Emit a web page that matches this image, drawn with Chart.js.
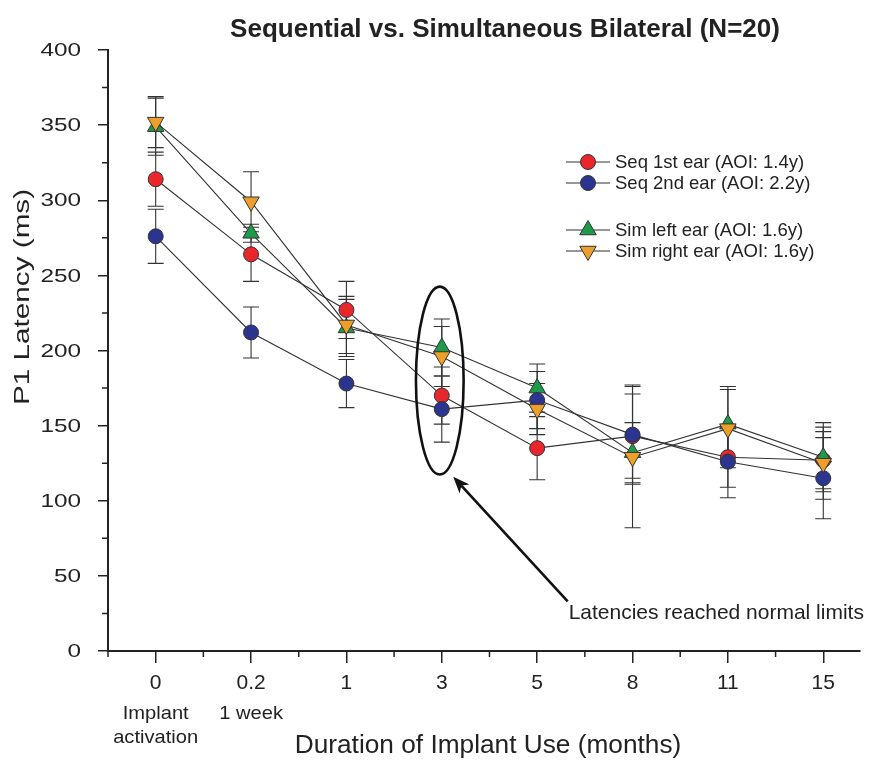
<!DOCTYPE html>
<html><head><meta charset="utf-8">
<script src="https://cdn.jsdelivr.net/npm/chart.js@4.4.1/dist/chart.umd.min.js"></script>
<style>html,body{margin:0;padding:0;background:#fff;}#wrap{width:870px;height:764px;}</style>
</head><body><div id="wrap"><canvas id="c" width="870" height="764"></canvas></div>
<script>
// ---- data ----
const categories = ['0', '0.2', '1', '3', '5', '8', '11', '15'];
const subLabels = [['Implant', 'activation'], ['1 week'], [], [], [], [], [], []];
const yTickValues = [0, 50, 100, 150, 200, 250, 300, 350, 400];
const seq1 = [314, 264, 227, 170, 135, 143, 129, 127];
const seq1Err = [18, 18, 19, 19, 21, 28, 20, 19];
const seq2 = [276, 212, 178, 161, 167, 144, 126, 115];
const seq2Err = [18, 17, 16, 22, 19, 33, 24, 27];
const simL = [349, 278, 215, 202, 175, 132, 151, 129];
const simLErr = [19, 6, 19, 19, 16, 20, 25, 23];
const simR = [352, 299, 217, 196, 161, 129, 148, 125];
const simRErr = [17, 20, 19, 20, 17, 47, 26, 24];
const seriesNames = ['Seq 1st ear (AOI: 1.4y)', 'Seq 2nd ear (AOI: 2.2y)', 'Sim left ear (AOI: 1.6y)', 'Sim right ear (AOI: 1.6y)'];
const titleText = 'Sequential vs. Simultaneous Bilateral (N=20)';
const xTitle = 'Duration of Implant Use (months)';
const yTitle = 'P1 Latency (ms)';
const noteText = 'Latencies reached normal limits';

const FONT = "'Liberation Sans', Arial, Helvetica, sans-serif";
const INK = '#222';
const colors = {red: '#E8262B', blue: '#2B3590', green: '#1E9B4A', orange: '#EE9F2A'};
const X_MIN = -0.5, X_MAX = 7.38;

function pts(arr) { return arr.map((v, i) => ({x: i, y: v})); }

const styles = [
  {name: seriesNames[0], data: seq1, err: seq1Err, color: colors.red, shape: 'circle'},
  {name: seriesNames[1], data: seq2, err: seq2Err, color: colors.blue, shape: 'circle'},
  {name: seriesNames[2], data: simL, err: simLErr, color: colors.green, shape: 'up'},
  {name: seriesNames[3], data: simR, err: simRErr, color: colors.orange, shape: 'down'}
];
// Chart.js paints the last dataset first: orange ends on top, then blue, green, red at bottom
const drawOrder = [3, 1, 2, 0];

const datasets = drawOrder.map(k => {
  const s = styles[k];
  return {
    label: s.name,
    data: pts(s.data),
    err: s.err,
    borderColor: '#333',
    borderWidth: 1.1,
    pointBackgroundColor: s.color,
    pointBorderColor: '#333',
    pointBorderWidth: 1,
    pointRadius: s.shape === 'circle' ? 7.5 : 9.5,
    pointStyle: s.shape === 'circle' ? 'circle' : 'triangle',
    pointRotation: s.shape === 'down' ? 180 : 0,
    tension: 0,
    fill: false
  };
});

function marker(ctx, shape, x, y, color) {
  ctx.save();
  ctx.fillStyle = color; ctx.strokeStyle = '#333'; ctx.lineWidth = 1;
  ctx.beginPath();
  if (shape === 'circle') {
    ctx.arc(x, y, 7.5, 0, Math.PI * 2);
  } else {
    const r = 9.5; const rot = shape === 'down' ? Math.PI : 0;
    for (let i = 0; i < 3; i++) {
      const a = rot + i * 2 * Math.PI / 3;
      const px = x + Math.sin(a) * r, py = y - Math.cos(a) * r;
      if (i === 0) ctx.moveTo(px, py); else ctx.lineTo(px, py);
    }
    ctx.closePath();
  }
  ctx.fill(); ctx.stroke();
  ctx.restore();
}

function sText(ctx, text, x, y, sx, align) {
  ctx.save(); ctx.translate(x, y); ctx.scale(sx, 1);
  ctx.textAlign = align; ctx.fillText(text, 0, 0); ctx.restore();
}

const decor = {
  id: 'decor',
  beforeDatasetsDraw(chart) {
    const {ctx, scales: {x, y}} = chart;
    ctx.save();
    ctx.strokeStyle = '#333'; ctx.lineWidth = 1.1;
    chart.data.datasets.forEach(ds => {
      ds.data.forEach((p, j) => {
        const e = ds.err[j];
        const px = x.getPixelForValue(p.x);
        const t = y.getPixelForValue(p.y + e), b = y.getPixelForValue(p.y - e);
        ctx.beginPath();
        ctx.moveTo(px, t); ctx.lineTo(px, b);
        ctx.moveTo(px - 8, t); ctx.lineTo(px + 8, t);
        ctx.moveTo(px - 8, b); ctx.lineTo(px + 8, b);
        ctx.stroke();
      });
    });
    ctx.restore();
  },
  afterDraw(chart) {
    const {ctx, chartArea: ca, scales: {x, y}} = chart;
    ctx.save();
    // minor ticks
    ctx.strokeStyle = INK; ctx.lineWidth = 1.5;
    ctx.beginPath();
    for (let v = -0.5; v <= X_MAX; v += 1) {
      const px = x.getPixelForValue(v);
      ctx.moveTo(px, ca.bottom); ctx.lineTo(px, ca.bottom + 6);
    }
    for (let v = 25; v < 400; v += 50) {
      const py = y.getPixelForValue(v);
      ctx.moveTo(ca.left, py); ctx.lineTo(ca.left - 6, py);
    }
    ctx.stroke();
    // y tick labels (wide face)
    ctx.fillStyle = INK;
    ctx.font = '19px ' + FONT;
    ctx.textBaseline = 'middle';
    y.ticks.forEach(t => {
      sText(ctx, String(t.value), ca.left - 27, y.getPixelForValue(t.value) + 1, 1.28, 'right');
    });
    // x sub labels
    ctx.font = '19px ' + FONT;
    subLabels.forEach((lines, i) => {
      lines.forEach((ln, k) => {
        sText(ctx, ln, x.getPixelForValue(i), ca.bottom + 63 + k * 24, 1.06, 'center');
      });
    });
    // axis titles
    ctx.font = '25px ' + FONT;
    sText(ctx, xTitle, 488, 746, 1.05, 'center');
    ctx.save();
    ctx.translate(23, 297); ctx.rotate(-Math.PI / 2);
    ctx.font = '22px ' + FONT;
    sText(ctx, yTitle, 0, 0, 1.35, 'center');
    ctx.restore();
    // chart title
    ctx.font = 'bold 26px ' + FONT;
    sText(ctx, titleText, 505, 30, 1.0, 'center');
    // legend
    const legendOrder = [0, 1, 2, 3];
    const rows = [162, 183, 230, 251];
    legendOrder.forEach((k, r) => {
      const s = styles[k];
      ctx.strokeStyle = '#333'; ctx.lineWidth = 1.2;
      ctx.beginPath(); ctx.moveTo(566, rows[r]); ctx.lineTo(610, rows[r]); ctx.stroke();
      marker(ctx, s.shape, 588, rows[r], s.color);
      ctx.fillStyle = INK; ctx.font = '18.5px ' + FONT; ctx.textAlign = 'left';
      ctx.fillText(s.name, 615, rows[r] + 1);
    });
    // ellipse around 3-month point
    const cx = x.getPixelForValue(3) - 2, cy = y.getPixelForValue(180);
    const ry = Math.abs(y.getPixelForValue(242) - y.getPixelForValue(117)) / 2;
    const rx = x.getPixelForValue(3.25) - x.getPixelForValue(3);
    ctx.strokeStyle = '#111'; ctx.lineWidth = 2.6;
    ctx.beginPath(); ctx.ellipse(cx, cy, rx, ry, 0, 0, Math.PI * 2); ctx.stroke();
    // arrow
    const tx = x.getPixelForValue(3.12), ty = y.getPixelForValue(116);
    const fx = x.getPixelForValue(4.32), fy = y.getPixelForValue(33);
    const ang = Math.atan2(ty - fy, tx - fx);
    ctx.lineWidth = 2.6;
    ctx.beginPath(); ctx.moveTo(fx, fy);
    ctx.lineTo(tx - Math.cos(ang) * 12, ty - Math.sin(ang) * 12); ctx.stroke();
    ctx.fillStyle = '#111';
    ctx.beginPath();
    ctx.moveTo(tx, ty);
    ctx.lineTo(tx - Math.cos(ang - 0.38) * 18, ty - Math.sin(ang - 0.38) * 18);
    ctx.lineTo(tx - Math.cos(ang) * 12, ty - Math.sin(ang) * 12);
    ctx.lineTo(tx - Math.cos(ang + 0.38) * 18, ty - Math.sin(ang + 0.38) * 18);
    ctx.closePath(); ctx.fill();
    // note text
    ctx.fillStyle = INK; ctx.font = '21px ' + FONT; ctx.textAlign = 'left'; ctx.textBaseline = 'middle';
    ctx.fillText(noteText, x.getPixelForValue(4.33), y.getPixelForValue(25));
    ctx.restore();
  }
};

new Chart(document.getElementById('c'), {
  type: 'line',
  data: {datasets},
  options: {
    responsive: false,
    animation: false,
    devicePixelRatio: 1,
    layout: {padding: {top: 50, right: 1, left: 0, bottom: 0}},
    plugins: {legend: {display: false}, tooltip: {enabled: false}, title: {display: false}},
    scales: {
      x: {
        type: 'linear', min: X_MIN, max: X_MAX,
        afterBuildTicks: s => { s.ticks = categories.map((c, i) => ({value: i})); },
        afterFit: s => { s.height = 113; },
        ticks: {
          callback: v => categories[v],
          font: {family: FONT, size: 21}, color: INK, padding: 8, maxRotation: 0, autoSkip: false
        },
        grid: {drawOnChartArea: false, drawTicks: true, tickLength: 12, color: INK, lineWidth: 1.5},
        border: {display: true, color: INK, width: 2}
      },
      y: {
        min: 0, max: 400,
        afterBuildTicks: s => { s.ticks = yTickValues.map(v => ({value: v})); },
        afterFit: s => { s.width = 108; },
        ticks: {display: false},
        grid: {drawOnChartArea: false, drawTicks: true, tickLength: 10, color: INK, lineWidth: 1.5},
        border: {display: true, color: INK, width: 2}
      }
    }
  },
  plugins: [decor]
});
</script>
</body></html>
